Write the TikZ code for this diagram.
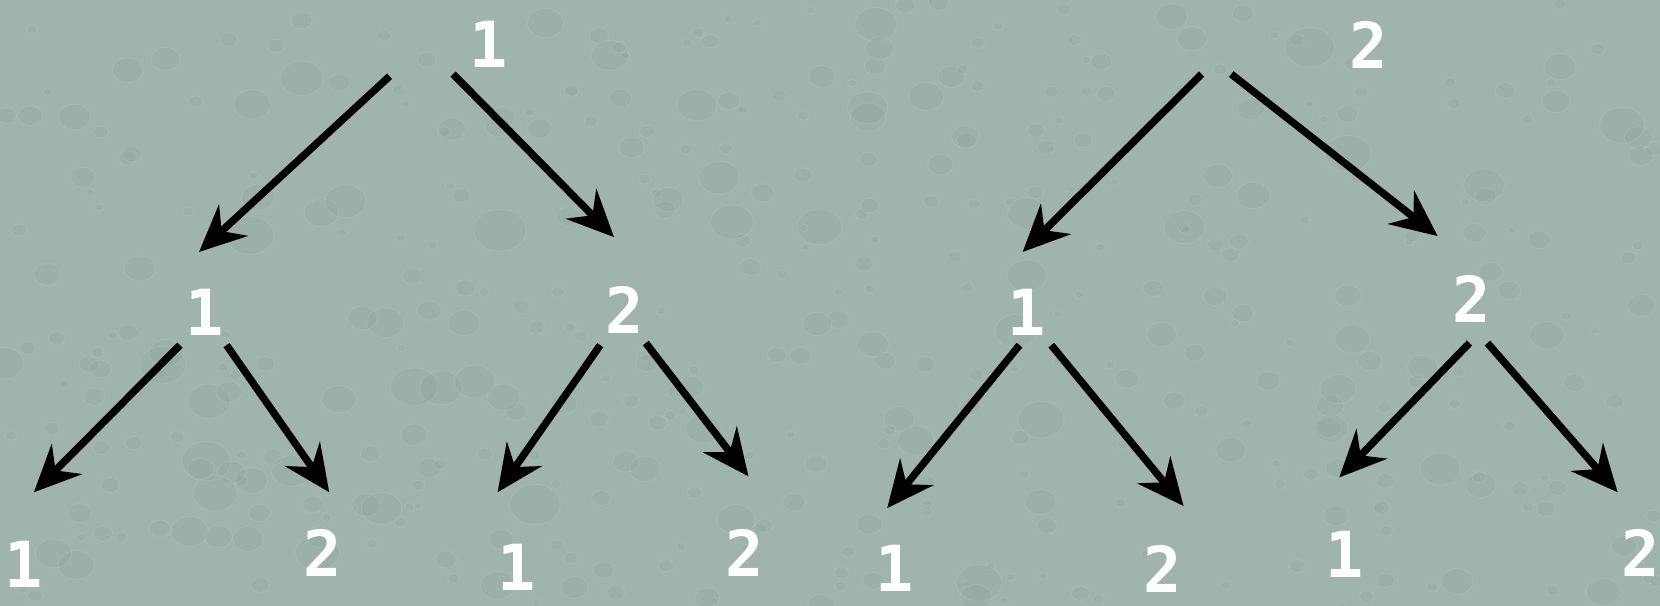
\documentclass[tikz,border=0pt]{standalone}
\usepackage{fontspec}
\newfontfamily\digitfont{DejaVu Sans Mono Bold}
\usetikzlibrary{arrows.meta}
\definecolor{bgteal}{RGB}{158,180,173}
\definecolor{dropshade}{RGB}{128,154,146}
\tikzset{
  num/.style={text=white, font=\digitfont\fontsize{60}{60}\selectfont, inner sep=0pt},
  branch/.style={line width=7pt, -{Stealth[length=44pt,width=40pt,inset=15pt]}, draw=black},
  drop/.style={fill=dropshade, fill opacity=0.12, draw=white, draw opacity=0.10, line width=0.8pt},
}
\begin{document}
\begin{tikzpicture}[x=1pt,y=-1pt]
\fill[bgteal] (0,0) rectangle (1568,572);
\useasboundingbox (0,0) rectangle (1568,572);

% water droplet texture on the backdrop
\begin{scope}
\clip (0,0) rectangle (1568,572);
\pgfmathsetseed{7}
\foreach \i in {1,...,420}{
  \pgfmathsetmacro{\dx}{rnd*1568}
  \pgfmathsetmacro{\dy}{rnd*572}
  \pgfmathsetmacro{\dr}{4+rnd*rnd*22}
  \fill[drop] (\dx,\dy) ellipse [x radius=\dr, y radius=0.8*\dr];
}
\end{scope}

% left tree
\node[num] (L)   at (462,42)  {1};
\node[num] (L1)  at (193,295) {1};
\node[num] (L2)  at (590,293) {2};
\node[num] (L11) at (22,533)  {1};
\node[num] (L12) at (305,522) {2};
\node[num] (L21) at (488,536) {1};
\node[num] (L22) at (703,522) {2};

% right tree
\node[num] (R)   at (1293,42)  {2};
\node[num] (R1)  at (970,295)  {1};
\node[num] (R2)  at (1390,282) {2};
\node[num] (R11) at (845,537)  {1};
\node[num] (R12) at (1098,537) {2};
\node[num] (R21) at (1270,524) {1};
\node[num] (R22) at (1550,522) {2};

% arrow end points
\coordinate (aLs) at (368,72);   \coordinate (aLe) at (188,238);
\coordinate (bLs) at (428,70);   \coordinate (bLe) at (580,224);
\coordinate (cLs) at (170,326);  \coordinate (cLe) at (32,465);
\coordinate (dLs) at (214,326);  \coordinate (dLe) at (311,465);
\coordinate (eLs) at (567,326);  \coordinate (eLe) at (470,465);
\coordinate (fLs) at (610,324);  \coordinate (fLe) at (707,450);

\coordinate (aRs) at (1135,70);  \coordinate (aRe) at (966,238);
\coordinate (bRs) at (1163,70);  \coordinate (bRe) at (1358,223);
\coordinate (cRs) at (963,326);  \coordinate (cRe) at (838,480);
\coordinate (dRs) at (993,326);  \coordinate (dRe) at (1118,478);
\coordinate (eRs) at (1388,324); \coordinate (eRe) at (1265,451);
\coordinate (fRs) at (1405,324); \coordinate (fRe) at (1528,465);

\foreach \s in {aL,bL,cL,dL,eL,fL,aR,bR,cR,dR,eR,fR}
  \draw[branch] (\s s) -- (\s e);
\end{tikzpicture}
\end{document}
